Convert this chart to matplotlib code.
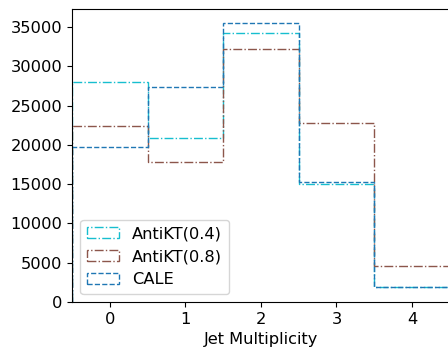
import matplotlib
matplotlib.use("Agg")
import matplotlib.pyplot as plt
import numpy as np

plt.rcParams['font.size'] = 11.7

categories = [0, 1, 2, 3, 4]
antikt04 = [27950, 20900, 34300, 15000, 1900]
antikt08 = [22450, 17800, 32250, 22750, 4550]
cale = [19750, 27350, 35500, 15250, 1950]

bins = np.arange(-0.5, 5.0, 1.0)

fig = plt.figure(figsize=(4.48, 3.52), dpi=100)
ax = fig.add_axes([0.161, 0.142, 0.843, 0.832])

ax.hist(categories, bins=bins, weights=antikt04, histtype='step',
        color='#17becf', linestyle='-.', label='AntiKT(0.4)')
ax.hist(categories, bins=bins, weights=antikt08, histtype='step',
        color='#8c564b', linestyle='-.', label='AntiKT(0.8)')
ax.hist(categories, bins=bins, weights=cale, histtype='step',
        color='#1f77b4', linestyle='--', label='CALE')

ax.set_xlim(-0.5, 4.5)
ax.set_xticks(categories)
ax.set_xlabel('Jet Multiplicity')
ax.legend(loc='lower left')

fig.savefig('out.png', dpi=100)
